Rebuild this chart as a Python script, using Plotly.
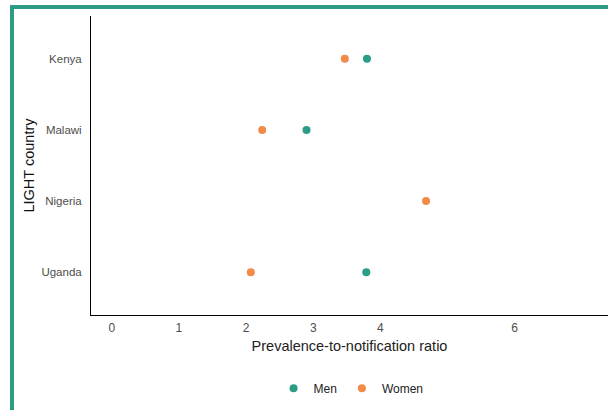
import plotly.graph_objects as go

countries = ["Kenya", "Malawi", "Nigeria", "Uganda"]
men = [3.80, 2.90, None, 3.79]
women = [3.47, 2.24, 4.68, 2.07]
x_ticks = [0, 1, 2, 3, 4, 6]

men_color = "#2a9d87"
women_color = "#f28a48"
font = "Liberation Sans, Arial, sans-serif"

fig = go.Figure()
fig.add_trace(go.Scatter(x=men, y=countries, mode="markers", name="Men",
                         marker=dict(color=men_color, size=8)))
fig.add_trace(go.Scatter(x=women, y=countries, mode="markers", name="Women",
                         marker=dict(color=women_color, size=8)))

fig.update_layout(
    width=608, height=410,
    margin=dict(l=91, r=0, t=16, b=95),
    paper_bgcolor="white", plot_bgcolor="white",
    font=dict(family=font, color="#222"),
    showlegend=True,
    legend=dict(orientation="h", x=0.503, xanchor="center", y=-0.245, yanchor="middle",
                font=dict(size=12, color="#222"), itemwidth=30),
    xaxis=dict(range=[-0.31, 7.39], tickvals=x_ticks, ticktext=[str(v) for v in x_ticks],
               showgrid=False, zeroline=False, showline=True, linecolor="black", linewidth=1,
               ticks="", tickfont=dict(size=12, color="#4d4d4d"), ticklabelstandoff=2,
               title=dict(text="Prevalence-to-notification ratio", font=dict(size=14.5, color="#222"),
                          standoff=6)),
    yaxis=dict(categoryorder="array", categoryarray=countries[::-1], range=[-0.6, 3.6],
               showgrid=False, zeroline=False, showline=True, linecolor="black", linewidth=1,
               ticks="", tickfont=dict(size=11.5, color="#4d4d4d"), ticklabelstandoff=6,
               title=dict(text="LIGHT country", font=dict(size=14.5, color="#111"), standoff=3)),
)

# teal frame along the top and left edges of the page
fig.add_shape(type="line", xref="paper", yref="paper",
              x0=(10 - 91) / 517, x1=(620 - 91) / 517, y0=(315 - 7) / 299, y1=(315 - 7) / 299,
              line=dict(color="#2e9b86", width=4))
fig.add_shape(type="line", xref="paper", yref="paper",
              x0=(12 - 91) / 517, x1=(12 - 91) / 517, y0=(315 - 5) / 299, y1=(315 - 420) / 299,
              line=dict(color="#2e9b86", width=4))

fig.write_html("out.html")
